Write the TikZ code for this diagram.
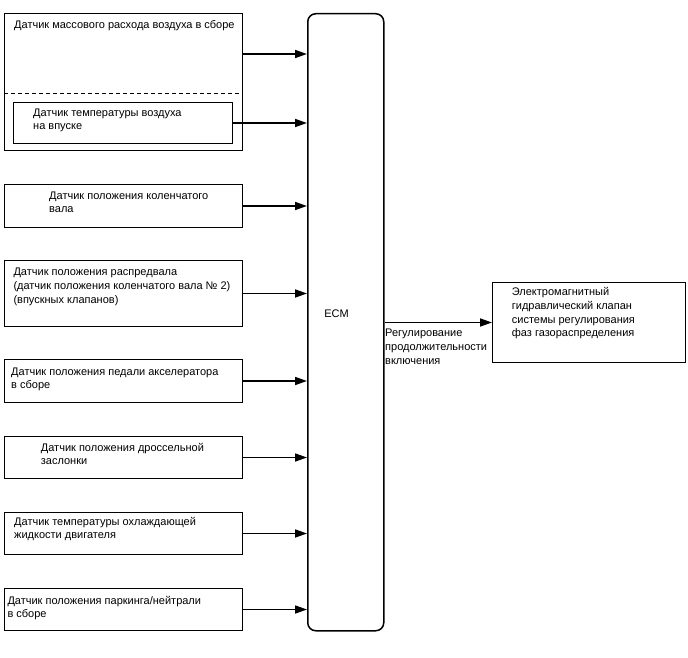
\documentclass[tikz,border=0pt]{standalone}
\usepackage{fontspec}
\setmainfont{Liberation Sans}
\usetikzlibrary{arrows.meta}
\begin{document}
\begin{tikzpicture}[x=1pt,y=-1pt,
  box/.style={draw, line width=1pt, inner sep=0, anchor=north west},
  txt/.style={anchor=north west, inner sep=0, align=left, font=\fontsize{11}{13.7}\selectfont},
  conn/.style={line width=1.7pt, -{Triangle[length=12pt,width=8pt]}}]
\useasboundingbox (0,0) rectangle (688,658);
% ECM
\node[draw, line width=1.5pt, rounded corners=8pt, inner sep=0, anchor=north west,
      minimum width=76, minimum height=617] (ecm) at (307,13) {};
\node[txt, anchor=center] (ecmt) at (336.5,313.5) {ECM};
% box 1
\node[box, minimum width=238, minimum height=137] (b1) at (4,13) {};
\draw[line width=1pt, dash pattern=on 4pt off 3pt] ([yshift=-81pt]b1.north west) coordinate (d1) -- ([yshift=-81pt]b1.north east) coordinate (d2);
\node[box, minimum width=219.6, minimum height=41.6] (b1i) at (12.7,101.7) {};
\node[txt] (t1) at (14,23-4.6) {\strut Датчик массового расхода воздуха в сборе};
\node[txt] (t1i) at (33,111-4.6) {\strut Датчик температуры воздуха\\на впуске};
% other boxes
\node[box, minimum width=238, minimum height=43] (b2) at (4,184) {};
\node[txt] (t2) at (49,194-4.6) {\strut Датчик положения коленчатого\\вала};
\node[box, minimum width=238, minimum height=66] (b3) at (4,260) {};
\node[txt] (t3) at (13.3,270.7-4.6) {\strut Датчик положения распредвала\\(датчик положения коленчатого вала № 2)\\(впускных клапанов)};
\node[box, minimum width=238, minimum height=43] (b4) at (4,359) {};
\node[txt] (t4) at (11,370-4.6) {\strut Датчик положения педали акселератора\\в сборе};
\node[box, minimum width=238, minimum height=42] (b5) at (4,436) {};
\node[txt] (t5) at (40.7,446-4.6) {\strut Датчик положения дроссельной\\заслонки};
\node[box, minimum width=238, minimum height=42] (b6) at (4,512) {};
\node[txt] (t6) at (14,520-4.6) {\strut Датчик температуры охлаждающей\\жидкости двигателя};
\node[box, minimum width=238, minimum height=42] (b7) at (4,588) {};
\node[txt] (t7) at (7.3,599-4.6) {\strut Датчик положения паркинга/нейтрали\\в сборе};
% output
\node[box, minimum width=193, minimum height=80] (out) at (492,282) {};
\node[txt] (to) at (511.7,290.7-4.6) {\strut Электромагнитный\\гидравлический клапан\\системы регулирования\\фаз газораспределения};
\node[txt] (lbl) at (385,331.7-4.6) {\strut Регулирование\\продолжительности\\включения};
% connectors
\draw[conn] ([yshift=-41pt]b1.north east) coordinate (s1) -- (s1 -| ecm.west);
\draw[conn] (b1i.east) -- (b1i.east -| ecm.west);
\draw[conn] (b2.east) -- (b2.east -| ecm.west);
\draw[conn] (b3.east) -- (b3.east -| ecm.west);
\draw[conn] (b4.east) -- (b4.east -| ecm.west);
\draw[conn] (b5.east) -- (b5.east -| ecm.west);
\draw[conn] (b6.east) -- (b6.east -| ecm.west);
\draw[conn] (b7.east) -- (b7.east -| ecm.west);
\draw[conn] (out.west -| ecm.east) -- (out.west);
\end{tikzpicture}
\end{document}
